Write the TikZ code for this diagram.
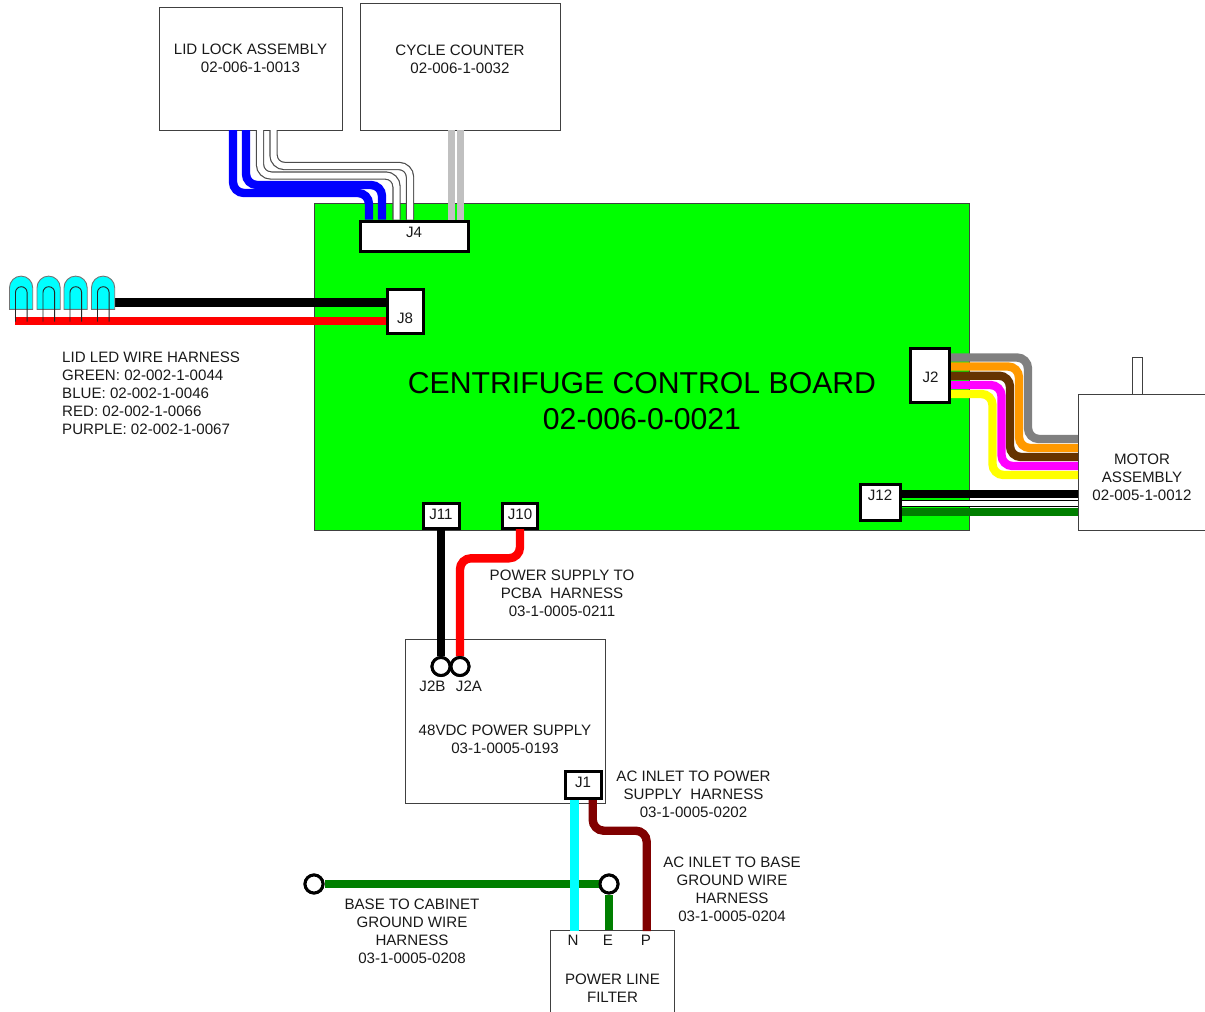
\documentclass[tikz,border=0pt]{standalone}
\usepackage{fontspec}
\setmainfont{Liberation Sans}
\definecolor{boardgreen}{RGB}{0,255,0}
\definecolor{wireblue}{RGB}{0,0,255}
\definecolor{wiregray}{RGB}{192,192,192}
\definecolor{wiredgray}{RGB}{128,128,128}
\definecolor{wireorange}{RGB}{255,153,0}
\definecolor{wirebrown}{RGB}{102,51,0}
\definecolor{wiregreen}{RGB}{0,127,0}
\definecolor{wiremaroon}{RGB}{128,0,0}
\definecolor{wirecyan}{RGB}{0,255,255}
\definecolor{wiremag}{RGB}{255,0,255}
\definecolor{wireyel}{RGB}{255,255,0}
\definecolor{wirered}{RGB}{255,0,0}
\begin{document}
\begin{tikzpicture}[x=1pt,y=-1pt,
  box/.style={draw=black!75,line width=0.9pt,fill=white},
  conn/.style={draw=black,line width=3pt,fill=white,inner sep=0pt,align=center,font=\fontsize{15.1}{18}\selectfont,text=black!90},
  lab/.style={align=center,inner sep=0pt,font=\fontsize{15.1}{18}\selectfont,text=black!90},
  wire/.style={line width=8.4pt,rounded corners=11pt},
  thinwire/.style={line width=1.2pt,double=white,double distance=6pt,draw=black!70,rounded corners=11pt},
  pin/.style={circle,draw=black,line width=3pt,fill=white,minimum size=18pt,inner sep=0pt},
  led/.style={draw=black!55,line width=0.9pt,fill=wirecyan},
  leg/.style={draw=black!85,line width=0.9pt}]
\useasboundingbox (0,0) rectangle (1205,1012);
% board
\node[draw=black!75,line width=0.9pt,fill=boardgreen,minimum width=654.6pt,minimum height=326.4pt,inner sep=0pt] (board) at (642,367) {};
\node[lab,font=\fontsize{30.2}{36}\selectfont,text=black] (title) at (642,401.5) {CENTRIFUGE CONTROL BOARD\\02-006-0-0021};
% boxes
\node[box,minimum width=182.4pt,minimum height=122.4pt,inner sep=0pt] (lid) at (251,69) {};
\node[lab] (lidt) at (250.5,58) {LID LOCK ASSEMBLY\\02-006-1-0013};
\node[box,minimum width=200pt,minimum height=127pt,inner sep=0pt] (cyc) at (460,66.5) {};
\node[lab] (cyct) at (460,59) {CYCLE COUNTER\\02-006-1-0032};
\node[box,minimum width=200pt,minimum height=164pt,inner sep=0pt] (psu) at (505,721) {};
\node[lab] (psut) at (505,739) {48VDC POWER SUPPLY\\03-1-0005-0193};
\node[box,minimum width=123.6pt,minimum height=90pt,inner sep=0pt] (filter) at (612.7,975.7) {};
\node[lab] (filtert) at (612.5,988.5) {POWER LINE\\FILTER};
\node[box,minimum width=9.6pt,minimum height=37pt,inner sep=0pt] (shaft) at (1137.5,375.5) {};
\node[box,minimum width=140pt,minimum height=136pt,inner sep=0pt] (motor) at (1148,462) {};
\node[lab] (motort) at (1142,477.5) {MOTOR\\ASSEMBLY\\02-005-1-0012};
% connector nodes
\node[conn,minimum width=108pt,minimum height=30pt] (J4) at (414.5,236.5) {};
\node[lab] (J4t) at (414,232) {J4};
\node[conn,minimum width=36pt,minimum height=44pt] (J8) at (405.5,311.5) {};
\node[lab] (J8t) at (405,318.5) {J8};
\node[conn,minimum width=39pt,minimum height=54pt] (J2) at (930,375.5) {};
\node[lab] (J2t) at (930.5,377.5) {J2};
\node[conn,minimum width=40pt,minimum height=36pt] (J12) at (880.5,502.5) {};
\node[lab] (J12t) at (880,495.5) {J12};
\node[conn,minimum width=36pt,minimum height=25pt] (J11) at (441.5,516) {};
\node[lab] (J11t) at (441,514.5) {J11};
\node[conn,minimum width=35pt,minimum height=25pt] (J10) at (520,516) {};
\node[lab] (J10t) at (520,514.5) {J10};
% pins
\node[pin] (p2b) at (441,666.5) {};
\node[pin] (p2a) at (460,666.5) {};
\node[pin] (gl) at (314,884) {};
\node[pin] (gr) at (609,884) {};
% endpoints
\coordinate (ledblack) at (115,302.5);
\coordinate (ledred) at (14.5,321);
% wires: lid lock
\draw[wire,wireblue] (233,130) -- (233,193) -- (369,193) -- (369,219.5);
\draw[wire,wireblue] (246,130) -- (246,185) -- (382,185) -- (382,219.5);
\draw[thinwire] (260,130) -- (260,175.5) -- (396.5,175.5) -- (396.5,219.5);
\draw[thinwire] (273.5,130) -- (273.5,166) -- (410,166) -- (410,219.5);
% cycle counter
\draw[line width=7.8pt,wiregray] (451.5,130) -- (451.5,219.5);
\draw[line width=7.8pt,wiregray] (460.5,130) -- (460.5,219.5);
% LED harness
\draw[line width=9pt,black] (ledblack) -- (J8.west |- ledblack);
\draw[wire,wirered] (ledred) -- (J8.west |- ledred);
\foreach \n/\x in {a/9.5,b/37,c/64,d/91.5}{
  \draw[led] (\x,309.3) -- (\x,287.7) arc[start angle=180,end angle=0,radius=11.6pt] -- (\x+23.2,309.3) -- cycle;
  \draw[leg] (\x+6,321.5) -- (\x+6,292.5) arc[start angle=180,end angle=0,radius=5.8pt] -- (\x+17.6,321.5);
}
% J2 harness
\draw[wire,wiredgray] (951,357.5) -- (1028,357.5) -- (1028,439) -- (1078,439);
\draw[wire,wireorange] (951,366.5) -- (1019,366.5) -- (1019,448) -- (1078,448);
\draw[wire,wirebrown] (951,375.7) -- (1010,375.7) -- (1010,457) -- (1078,457);
\draw[wire,wiremag] (951,385) -- (1001.5,385) -- (1001.5,466) -- (1078,466);
\draw[wire,wireyel] (951,394) -- (992.5,394) -- (992.5,475) -- (1078,475);
% J12 harness
\draw[line width=8pt,black] (J12.east |- 0,494) -- (1078,494);
\draw[line width=1.2pt,double=white,double distance=4.6pt,draw=black] (J12.east |- 0,503.2) -- (1078,503.2);
\draw[line width=8pt,wiregreen] (J12.east |- 0,511.7) -- (1078,511.7);
% power supply
\draw[wire,black] (J11.south -| p2b) -- (p2b);
\draw[wire,wirered] (520,529) -- (520,558.3) -- (460,558.3) -- (p2a);
\node[pin] at (p2b) {};
\node[pin] at (p2a) {};
% AC
\draw[wire,wiregreen] (gl) -- (gr);
\draw[wire,wiregreen] (gr) -- (gr |- filter.north);
\draw[wire,wirecyan] (574.5,799) -- (574.5,931);
\draw[wire,wiremaroon] (592.7,799) -- (592.7,830.7) -- (646.7,830.7) -- (646.7,931);
\node[pin] at (gl) {};
\node[pin] at (gr) {};
% J1 over wires
\node[conn,minimum width=36pt,minimum height=27pt] (J1) at (583.5,785) {};
\node[lab] (J1t) at (583,782.5) {J1};
% labels
\node[lab,align=left,anchor=west] (ledt) at (62,393.5) {LID LED WIRE HARNESS\\GREEN: 02-002-1-0044\\BLUE: 02-002-1-0046\\RED: 02-002-1-0066\\PURPLE: 02-002-1-0067};
\node[lab] (pst) at (562,593.5) {POWER SUPPLY TO\\PCBA\ \ HARNESS\\03-1-0005-0211};
\node[lab] at (432.5,686.5) {J2B};
\node[lab] at (469,686.5) {J2A};
\node[lab] at (693.5,794.5) {AC INLET TO POWER\\SUPPLY\ \ HARNESS\\03-1-0005-0202};
\node[lab] at (732,889.5) {AC INLET TO BASE\\GROUND WIRE\\HARNESS\\03-1-0005-0204};
\node[lab] at (412,931.5) {BASE TO CABINET\\GROUND WIRE\\HARNESS\\03-1-0005-0208};
\node[lab] at (573,940.5) {N};
\node[lab] at (608,940.5) {E};
\node[lab] at (646,940.5) {P};
\end{tikzpicture}
\end{document}
